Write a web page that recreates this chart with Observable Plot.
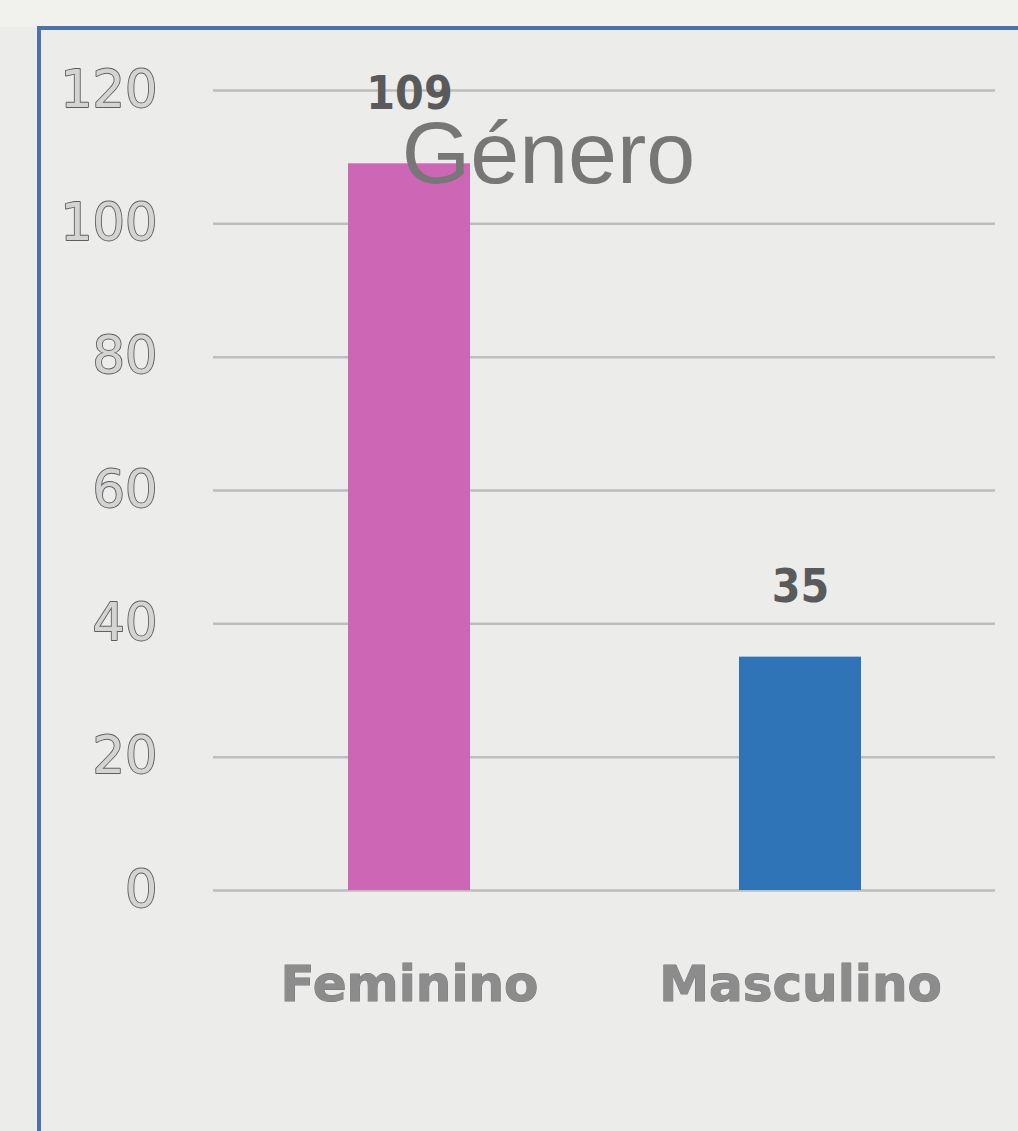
<!DOCTYPE html>
<html>
<head>
<meta charset="utf-8">
<script src="https://cdn.jsdelivr.net/npm/d3@7"></script>
<script src="https://cdn.jsdelivr.net/npm/@observablehq/plot@0.6"></script>
<style>
  html, body { margin: 0; padding: 0; background: #ececea; width: 1018px; height: 1131px; overflow: hidden; }
  #wrap { position: relative; width: 1018px; height: 1131px; }
  #topband { position: absolute; left: 0; top: 0; width: 1018px; height: 27px; background: #f1f1ee; }
  #frameTop { position: absolute; left: 37px; top: 26px; width: 981px; height: 4px; background: #4c72a8; }
  #frameLeft { position: absolute; left: 37px; top: 26px; width: 4px; height: 1105px; background: #4c72a8; }
  #chart { position: absolute; left: 0; top: 0; }
</style>
</head>
<body>
<div id="wrap">
  <div id="topband"></div>
  <div id="chart"></div>
  <div id="frameTop"></div>
  <div id="frameLeft"></div>
</div>
<script>
const title = "Género";
const categories = ["Feminino", "Masculino"];
const values = [109, 35];
const barColors = ["#cd66b4", "#2e74b7"];
const yTicks = [0, 20, 40, 60, 80, 100, 120];

const data = categories.map((c, i) => ({ category: c, value: values[i], color: barColors[i] }));

const chart = Plot.plot({
  width: 1018,
  height: 1131,
  marginLeft: 213,
  marginRight: 23,
  marginTop: 90,
  marginBottom: 241,
  style: { background: "transparent", overflow: "visible" },
  x: { domain: categories, paddingInner: 0.688, paddingOuter: 0.344, axis: null, label: null },
  y: { domain: [0, 120], axis: null, label: null },
  marks: [
    Plot.gridY(yTicks, { stroke: "#bdbdbd", strokeOpacity: 1, strokeWidth: 2.5 }),
    Plot.axisY(yTicks, {
      label: null,
      tickSize: 0, tickPadding: 56,
      fontSize: 51, fontFamily: "DejaVu Sans",
      fill: "#d4d4d4", textStroke: "#5e5e5e", textStrokeWidth: 1.8, textStrokeOpacity: 1
    }),
    Plot.barY(data, { x: "category", y: "value", fill: "color" }),
    Plot.axisX(categories, {
      label: null,
      tickSize: 0, tickPadding: 75,
      fontSize: 50, fontWeight: "bold", fontFamily: "DejaVu Sans",
      fill: "#8c8c8c", textStroke: "#777", textStrokeWidth: 1
    }),
    Plot.text(data, {
      x: "category", y: "value", text: d => String(d.value),
      dy: -70, fontSize: 46, fontWeight: "bold", fontFamily: "DejaVu Sans Condensed, DejaVu Sans",
      fill: "#5a5a5a", textStroke: "#3a3a3a", textStrokeWidth: 1
    }),
    Plot.text([title], {
      frameAnchor: "top", text: d => d, dx: -56, dy: 30,
      fontSize: 88, fontFamily: "Liberation Sans",
      fill: "#777777"
    })
  ]
});
document.getElementById("chart").appendChild(chart);
</script>
</body>
</html>
